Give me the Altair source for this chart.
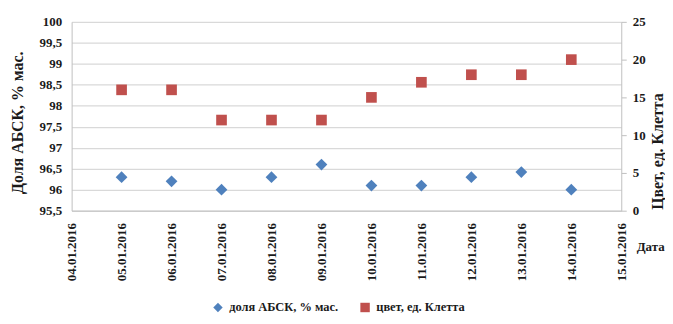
import altair as alt
import pandas as pd

dates = ["05.01.2016", "06.01.2016", "07.01.2016", "08.01.2016", "09.01.2016",
         "10.01.2016", "11.01.2016", "12.01.2016", "13.01.2016", "14.01.2016"]
absk = [96.3, 96.2, 96.0, 96.3, 96.6, 96.1, 96.1, 96.3, 96.42, 96.0]
color_klett = [16, 16, 12, 12, 12, 15, 17, 18, 18, 20]

s1 = "доля АБСК, % мас."
s2 = "цвет, ед. Клетта"
x_ticks = list(range(4, 16))
y_left_ticks = [95.5 + 0.5 * i for i in range(10)]
y_right_ticks = [0, 5, 10, 15, 20, 25]

days = [int(d.split(".")[0]) for d in dates]
df = pd.DataFrame({
    "day": days + days,
    "value": absk + color_klett,
    "series": [s1] * len(days) + [s2] * len(days),
})

FONT = "Liberation Serif"
TXT = "#1a1a1a"

color = alt.Color("series:N", scale=alt.Scale(domain=[s1, s2], range=["#4f81bd", "#c0504d"]),
                  legend=alt.Legend(orient="none", legendX=141, legendY=281, direction="horizontal",
                                    title=None, labelFont=FONT, labelFontSize=12.5, labelFontWeight="bold",
                                    labelColor=TXT, columnPadding=20, symbolSize=90, labelOffset=5,
                                    symbolStrokeWidth=0, labelLimit=300))
shape = alt.Shape("series:N", scale=alt.Scale(domain=[s1, s2], range=["diamond", "square"]))

xenc = alt.X("day:Q", scale=alt.Scale(domain=[4, 15], nice=False),
             axis=alt.Axis(values=x_ticks, labelAngle=-90,
                           labelExpr="(datum.value < 10 ? '0' : '') + datum.value + '.01.2016'",
                           grid=False, ticks=False, labelPadding=12, domainColor="#bfbfbf",
                           labelFont=FONT, labelFontSize=13, labelFontWeight="bold", labelColor=TXT,
                           title="Дата", titleFont=FONT, titleFontSize=13, titleFontWeight="bold",
                           titleColor=TXT, titleAngle=0, titleAlign="left", titleBaseline="middle",
                           titleX=568, titleY=36))

left = alt.Chart(df).transform_filter(alt.datum.series == s1).mark_point(
    filled=True, size=140, opacity=1).encode(
    x=xenc,
    y=alt.Y("value:Q", scale=alt.Scale(domain=[95.5, 100], nice=False, zero=False),
            axis=alt.Axis(values=y_left_ticks, labelExpr="replace(format(datum.value, '~g'), '.', ',')",
                          grid=True, gridColor="#d9d9d9", gridWidth=1.3, ticks=False, labelPadding=10,
                          domainColor="#bfbfbf", labelFont=FONT, labelFontSize=13,
                          labelFontWeight="bold", labelColor=TXT,
                          title="Доля АБСК, % мас.", titleFont=FONT, titleFontSize=16,
                          titleFontWeight="bold", titleColor=TXT, titleAngle=-90,
                          titleX=-54, titleY=101, titleBaseline="middle")),
    color=color, shape=shape,
)

right = alt.Chart(df).transform_filter(alt.datum.series == s2).mark_point(
    filled=True, size=115, opacity=1).encode(
    x=xenc,
    y=alt.Y("value:Q", scale=alt.Scale(domain=[0, 25], nice=False),
            axis=alt.Axis(orient="right", values=y_right_ticks, grid=False, ticks=True, tickSize=5,
                          tickColor="#bfbfbf", labelPadding=6, domainColor="#bfbfbf",
                          labelFont=FONT, labelFontSize=13, labelFontWeight="bold", labelColor=TXT,
                          title="Цвет, ед. Клетта", titleFont=FONT, titleFontSize=16,
                          titleFontWeight="bold", titleColor=TXT, titleAngle=-90,
                          titleX=36, titleY=130, titleBaseline="middle")),
    color=color, shape=shape,
)

chart = alt.layer(left, right).resolve_scale(y="independent").properties(
    width=553, height=190,
    autosize=alt.AutoSizeParams(type="none"),
    padding={"left": 64, "top": 13, "right": 44, "bottom": 104},
    background="white",
).configure_view(strokeWidth=0)

chart.save("out.html", embed_options={"renderer": "svg", "actions": False})
